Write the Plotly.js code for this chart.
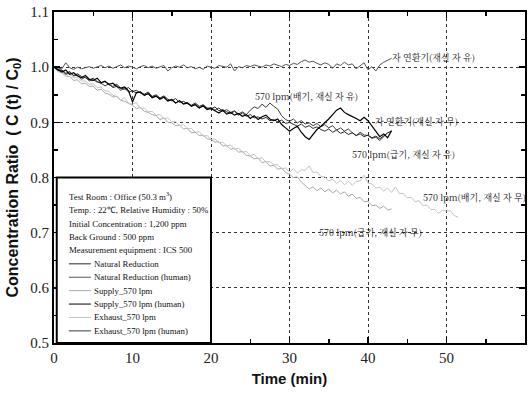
<!DOCTYPE html>
<html>
<head>
<meta charset="utf-8">
<script src="https://cdn.plot.ly/plotly-3.0.1.min.js"></script>
<style>html,body{margin:0;padding:0;background:#fff;}#chart{width:529px;height:394px;}</style>
</head>
<body>
<div id="chart"></div>
<script>
// time in minutes (sample clock, 0.5 min)
var minutes = [0,0.5,1,1.5,2,2.5,3,3.5,4,4.5,5,5.5,6,6.5,7,7.5,8,8.5,9,9.5,10,10.5,11,11.5,12,12.5,13,13.5,14,14.5,15,15.5,16,16.5,17,17.5,18,18.5,19,19.5,20,20.5,21,21.5,22,22.5,23,23.5,24,24.5,25,25.5,26,26.5,27,27.5,28,28.5,29,29.5,30,30.5,31,31.5,32,32.5,33,33.5,34,34.5,35,35.5,36,36.5,37,37.5,38,38.5,39,39.5,40,40.5,41,41.5,42,42.5,43,43.5,44,44.5,45,45.5,46,46.5,47,47.5,48,48.5,49,49.5,50,50.5,51,51.5];

var naturalReduction = [1.000,0.994,0.995,0.989,0.992,0.985,0.988,0.983,0.981,0.977,0.980,0.974,0.971,0.975,0.968,0.965,0.969,0.962,0.960,0.963,0.956,0.958,0.953,0.951,0.955,0.947,0.950,0.944,0.948,0.942,0.939,0.943,0.936,0.938,0.934,0.931,0.935,0.929,0.932,0.926,0.924,0.928,0.921,0.923,0.919,0.916,0.920,0.913,0.917,0.911,0.914,0.908,0.910,0.906,0.909,0.903,0.905,0.901,0.904,0.898,0.900,0.896,0.893,0.897,0.891,0.894,0.889,0.892,0.887,0.884,0.888,0.882,0.886,0.880,0.883,0.878,0.881,0.876,0.879,0.874,0.877,0.872,0.875,0.870,0.876,0.881,0.884];

var naturalHuman = [1.000,0.998,0.997,1.008,0.999,0.996,1.000,0.997,0.999,1.001,0.998,1.000,1.003,0.999,1.002,0.998,1.001,1.004,0.999,1.002,1.000,0.997,1.001,1.003,0.999,1.002,0.998,1.000,1.003,0.993,0.999,1.002,1.000,1.004,0.999,1.001,0.997,1.000,0.996,1.002,1.000,0.998,1.003,1.001,1.000,1.006,0.993,1.001,0.999,1.003,1.001,1.004,1.002,1.000,1.004,1.002,1.006,1.004,1.001,1.005,1.003,1.007,1.005,1.010,1.013,1.009,1.011,1.007,1.004,1.008,1.005,0.998,1.006,1.003,1.009,1.004,1.006,0.997,1.003,1.008,0.995,1.001,0.993,1.004,1.009,1.012,1.016];

var supply570 = [1.000,0.992,0.990,0.984,0.983,0.976,0.977,0.970,0.971,0.965,0.966,0.958,0.960,0.953,0.951,0.946,0.947,0.940,0.938,0.934,0.931,0.925,0.927,0.920,0.918,0.914,0.912,0.905,0.908,0.900,0.899,0.894,0.895,0.888,0.889,0.881,0.882,0.876,0.877,0.870,0.869,0.864,0.865,0.857,0.858,0.851,0.853,0.846,0.847,0.840,0.839,0.834,0.835,0.827,0.829,0.821,0.822,0.815,0.817,0.809,0.806,0.800,0.801,0.792,0.786,0.779,0.783,0.776,0.781,0.774,0.779,0.772,0.777,0.770,0.774,0.766,0.770,0.762,0.764,0.756,0.757,0.749,0.750,0.744,0.748,0.741,0.743];

var supply570Human = [1.000,0.995,0.991,0.995,0.987,0.990,0.984,0.981,0.985,0.978,0.976,0.980,0.972,0.974,0.969,0.971,0.965,0.962,0.964,0.957,0.937,0.954,0.955,0.949,0.952,0.945,0.948,0.942,0.946,0.939,0.941,0.935,0.939,0.933,0.935,0.929,0.932,0.926,0.930,0.923,0.925,0.921,0.917,0.922,0.915,0.918,0.913,0.916,0.911,0.914,0.907,0.912,0.905,0.910,0.913,0.906,0.903,0.906,0.896,0.890,0.884,0.889,0.893,0.882,0.874,0.869,0.878,0.887,0.893,0.899,0.906,0.914,0.922,0.926,0.918,0.914,0.911,0.907,0.903,0.909,0.903,0.894,0.883,0.874,0.879,0.872,0.885];

var exhaust570 = [1.000,0.995,0.993,0.987,0.987,0.981,0.981,0.975,0.975,0.969,0.970,0.963,0.964,0.957,0.956,0.949,0.947,0.940,0.945,0.934,0.933,0.936,0.925,0.926,0.919,0.920,0.913,0.914,0.907,0.908,0.901,0.901,0.894,0.896,0.888,0.889,0.882,0.883,0.875,0.876,0.869,0.870,0.863,0.864,0.857,0.859,0.851,0.853,0.846,0.847,0.840,0.842,0.834,0.836,0.828,0.829,0.823,0.823,0.816,0.817,0.810,0.816,0.808,0.814,0.813,0.821,0.809,0.810,0.802,0.801,0.794,0.797,0.789,0.795,0.787,0.793,0.786,0.793,0.794,0.804,0.790,0.788,0.781,0.782,0.775,0.781,0.773,0.783,0.771,0.771,0.763,0.764,0.756,0.758,0.749,0.750,0.742,0.742,0.735,0.741,0.739,0.740,0.731,0.728];

var exhaust570Human = [1.000,0.996,0.994,0.987,0.991,0.984,0.986,0.978,0.982,0.975,0.977,0.973,0.971,0.966,0.970,0.963,0.965,0.958,0.962,0.955,0.957,0.953,0.955,0.949,0.952,0.944,0.947,0.943,0.945,0.938,0.942,0.935,0.939,0.934,0.936,0.930,0.933,0.926,0.930,0.925,0.927,0.922,0.926,0.920,0.923,0.918,0.921,0.915,0.919,0.914,0.922,0.928,0.925,0.933,0.927,0.935,0.929,0.924,0.912,0.905,0.902,0.906,0.899,0.903,0.897,0.899,0.894,0.898,0.892,0.896,0.890,0.894,0.886,0.890,0.884,0.888,0.881,0.876,0.882,0.877,0.876,0.871,0.873,0.867,0.874,0.881];

var seriesNames = ["Natural Reduction","Natural Reduction (human)","Supply_570 lpm","Supply_570 lpm (human)","Exhaust_570 lpm","Exhaust_570 lpm (human)"];
var seriesColors = ["#2a2a2a","#555555","#a8a8a8","#000000","#c4c4c4","#3c3c3c"];

var infoLines = ["Test Room : Office (50.3 m<sup>3</sup>)","Temp. : 22℃, Relative Humidity : 50%","Initial Concentration : 1,200 ppm","Back Ground : 500 ppm","Measurement equipment : ICS 500"];

var curveLabels = ["자 연환기(재실 자 유)","570 lpm(배기, 재실 자 유)","자 연환기(재실 자 무)","570 lpm(급기, 재실 자 유)","570 lpm(배기, 재실 자 무)","570 lpm(급기, 재실 자 무)"];
var curveLabelX = [42.8,25.4,40.6,37.7,46.8,33.5];
var curveLabelY = [1.017,0.946,0.901,0.841,0.763,0.700];

var xTitle = "Time (min)";
var yTitle = "Concentration Ratio  ( C (t) / C<sub>0</sub>)";

var allSeries = [naturalReduction, naturalHuman, supply570, supply570Human, exhaust570, exhaust570Human];
var traces = allSeries.map(function(v, i){
  return {x: minutes.slice(0, v.length), y: v, type:'scatter', mode:'lines', name: seriesNames[i],
    line:{color: seriesColors[i], width: (i===3 ? 1.2 : 1)}, showlegend:false, hoverinfo:'skip'};
});
// draw light curves first
traces = [traces[2], traces[4], traces[1], traces[5], traces[0], traces[3]];

var serif = "Liberation Serif";
var tickSerif = "serif";
var krSerif = "Noto Serif CJK KR";
var sans = "Liberation Sans";
var annotations = [];
var shapes = [{type:'rect', xref:'x', yref:'y', x0:0.35, x1:20, y0:0.5, y1:0.8, line:{color:'#000', width:2}, fillcolor:'#fff', layer:'above'}];
var rowY0 = 0.765, rowStep = 0.0243;
infoLines.forEach(function(t, i){
  annotations.push({xref:'x', yref:'y', x:1.7, y:rowY0 - i*rowStep, text:t, showarrow:false, xanchor:'left', yanchor:'middle', font:{family:serif, size:8.8, color:'#111'}});
});
seriesNames.forEach(function(t, i){
  var yy = rowY0 - (i+5)*rowStep;
  shapes.push({type:'line', xref:'x', yref:'y', x0:1.9, x1:4.7, y0:yy, y1:yy, line:{color: seriesColors[i], width:1}, layer:'above'});
  annotations.push({xref:'x', yref:'y', x:4.8, y:yy, text:t, showarrow:false, xanchor:'left', yanchor:'middle', font:{family:serif, size:8.8, color:'#111'}});
});
curveLabels.forEach(function(t, i){
  annotations.push({xref:'x', yref:'y', x:curveLabelX[i], y:curveLabelY[i], text:t, showarrow:false, xanchor:'left', yanchor:'middle', font:{family:krSerif, size:9, color:'#111'}});
});

var layout = {
  width:529, height:394,
  margin:{l:54, r:4, t:12, b:51},
  paper_bgcolor:'#fff', plot_bgcolor:'#fff',
  showlegend:false,
  xaxis:{range:[0,60], dtick:10, tick0:0, ticks:'inside', ticklen:6, tickwidth:1.5, tickcolor:'#000',
    minor:{dtick:5, ticks:'inside', ticklen:4, tickcolor:'#000', showgrid:false},
    showline:true, linecolor:'#000', linewidth:2, mirror:'allticks',
    showgrid:true, gridcolor:'#333', gridwidth:1, griddash:'dot', zeroline:false,
    tickfont:{family:tickSerif, size:15, color:'#222'},
    title:{text:xTitle, font:{family:sans, size:15, color:'#111', weight:'bold'}, standoff:8}},
  yaxis:{range:[0.5,1.1], dtick:0.1, tick0:0.5, tickformat:'.1f', ticks:'inside', ticklen:6, tickwidth:1.5, tickcolor:'#000',
    minor:{dtick:0.05, ticks:'inside', ticklen:4, tickcolor:'#000', showgrid:false},
    showline:true, linecolor:'#000', linewidth:2, mirror:'allticks',
    showgrid:true, gridcolor:'#333', gridwidth:1, griddash:'dot', zeroline:false,
    tickfont:{family:tickSerif, size:15, color:'#222'},
    title:{text:yTitle, font:{family:sans, size:16, color:'#111', weight:'bold'}, standoff:8}},
  shapes:shapes,
  annotations:annotations
};
Plotly.newPlot('chart', traces, layout, {staticPlot:true, displayModeBar:false});
</script>
</body>
</html>
